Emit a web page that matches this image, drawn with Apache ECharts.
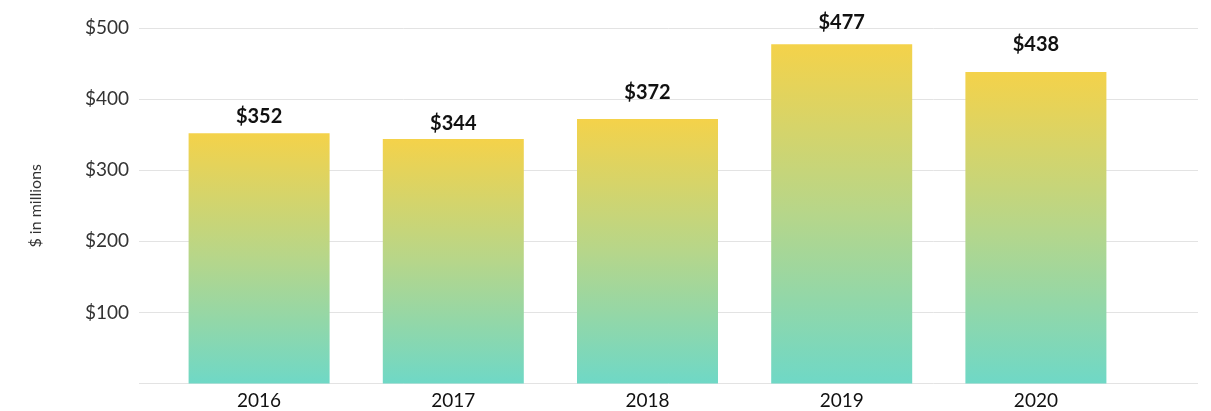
<!DOCTYPE html>
<html>
<head>
    <title>Bar chart</title>
    <script src="https://cdn.jsdelivr.net/npm/echarts@6.0.0/dist/echarts.min.js"></script>
    <style>
        body { margin: 0; background: #fff; }
        #chart { width: 1211px; height: 411px; }
    </style>
</head>
<body>
    <div id="chart"></div>
    <script>
        // data
        const years = ['2016', '2017', '2018', '2019', '2020'];
        const values = [352, 344, 372, 477, 438];
        const yTicks = [0, 100, 200, 300, 400, 500];
        // label gaps above each bar, as placed in the reference
        const labelGaps = [7, 5, 16, 12, 18];

        const chart = echarts.init(document.getElementById('chart'));
        const font = 'Lato, "Open Sans", sans-serif';

        const barColor = new echarts.graphic.LinearGradient(0, 0, 0, 1, [
            { offset: 0, color: '#f4d24a' },
            { offset: 0.5, color: '#b6d68a' },
            { offset: 1, color: '#6fd8c6' }
        ]);

        chart.setOption({
            animation: false,
            textStyle: { fontFamily: font },
            grid: [
                // gridlines + y labels
                { left: 139, right: 13, top: 28, bottom: 27.5, outerBoundsMode: 'none', containLabel: false },
                // bars
                { left: 162, width: 971, top: 28, bottom: 27.5, outerBoundsMode: 'none', containLabel: false }
            ],
            xAxis: [
                { gridIndex: 0, type: 'category', data: years, show: false },
                {
                    gridIndex: 1,
                    type: 'category',
                    data: years,
                    axisLine: { show: false },
                    axisTick: { show: false },
                    axisLabel: { color: '#111', fontSize: 19, lineHeight: 19, margin: 8, fontFamily: font }
                }
            ],
            yAxis: [
                {
                    gridIndex: 0,
                    type: 'value',
                    min: yTicks[0],
                    max: yTicks[yTicks.length - 1],
                    interval: 100,
                    name: '$ in millions',
                    nameLocation: 'middle',
                    nameRotate: 90,
                    nameGap: 91,
                    nameTextStyle: { color: '#333', fontSize: 16, fontFamily: font },
                    axisLine: { show: false },
                    axisTick: { show: false },
                    axisLabel: {
                        color: '#333',
                        fontSize: 19,
                        margin: 10,
                        fontFamily: font,
                        formatter: v => v === 0 ? '' : '$' + v
                    },
                    splitLine: { lineStyle: { color: '#e3e3e3', width: 1 } }
                },
                {
                    gridIndex: 1,
                    type: 'value',
                    min: 0,
                    max: 500,
                    interval: 100,
                    show: false,
                    splitLine: { show: false }
                }
            ],
            series: [{
                type: 'bar',
                xAxisIndex: 1,
                yAxisIndex: 1,
                data: values.map((v, i) => ({ value: v, label: { distance: labelGaps[i] } })),
                barWidth: 141,
                itemStyle: { color: barColor },
                label: {
                    show: true,
                    position: 'top',
                    color: '#111',
                    fontSize: 20,
                    lineHeight: 20,
                    fontWeight: 'bold',
                    fontFamily: font,
                    formatter: p => '$' + p.value
                }
            }]
        });
    </script>
</body>
</html>
